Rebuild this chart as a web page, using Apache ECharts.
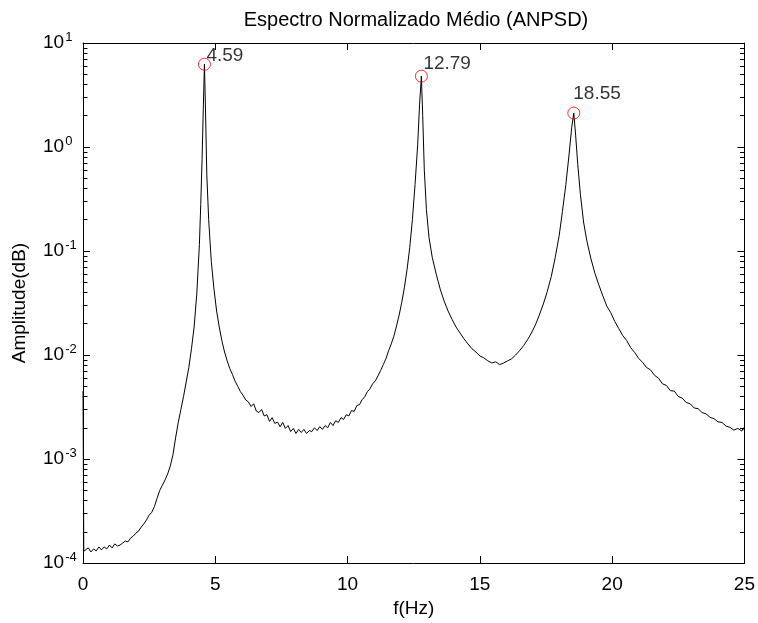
<!DOCTYPE html>
<html><head><meta charset="utf-8">
<script src="https://cdn.jsdelivr.net/npm/echarts@6/dist/echarts.min.js"></script>
<style>html,body{margin:0;padding:0;background:#fff}#c{width:758px;height:623px}</style>
</head><body><div id="c"></div>
<script>
const FONT = '"Liberation Sans",Arial,sans-serif';
const titleText = 'Espectro Normalizado Médio (ANPSD)';
const xName = 'f(Hz)';
const yName = 'Amplitude(dB)';

const freq = [0,0.03,0.1,0.2,0.3,0.4,0.5,0.6,0.7,0.8,0.9,1.0,1.1,1.2,1.3,1.4,1.5,1.6,1.7,1.8,1.9,2.0,2.1,2.2,2.3,2.4,2.5,2.6,2.7,2.8,2.9,3.0,3.1,3.2,3.3,3.4,3.5,3.6,3.7,3.8,3.9,4.0,4.1,4.2,4.3,4.4,4.45,4.5,4.55,4.59,4.63,4.68,4.75,4.85,4.95,5.05,5.15,5.25,5.35,5.45,5.55,5.65,5.75,5.85,5.95,6.05,6.15,6.25,6.35,6.45,6.55,6.65,6.75,6.85,6.95,7.05,7.15,7.25,7.35,7.45,7.55,7.65,7.75,7.85,7.95,8.05,8.15,8.25,8.35,8.45,8.55,8.65,8.75,8.85,8.95,9.05,9.15,9.25,9.35,9.45,9.55,9.65,9.75,9.85,9.95,10.05,10.15,10.25,10.35,10.45,10.55,10.65,10.75,10.85,10.95,11.05,11.15,11.25,11.35,11.45,11.55,11.65,11.75,11.85,11.95,12.05,12.15,12.25,12.35,12.45,12.55,12.65,12.72,12.79,12.84,12.9,12.98,13.08,13.2,13.35,13.5,13.65,13.8,13.95,14.1,14.25,14.4,14.55,14.7,14.85,15.0,15.15,15.3,15.45,15.6,15.75,15.9,16.05,16.2,16.35,16.5,16.65,16.8,16.95,17.1,17.25,17.4,17.55,17.7,17.85,18.0,18.12,18.25,18.37,18.47,18.55,18.62,18.7,18.8,18.92,19.05,19.2,19.35,19.5,19.65,19.8,19.95,20.1,20.25,20.4,20.55,20.7,20.85,21.0,21.15,21.3,21.45,21.6,21.75,21.9,22.05,22.2,22.35,22.5,22.65,22.8,22.95,23.1,23.25,23.4,23.55,23.7,23.85,24.0,24.15,24.3,24.45,24.6,24.75,24.9,24.96,25.0];

const amp = [4.5e-3,1.3e-4,1.31e-4,1.40e-4,1.28e-4,1.37e-4,1.31e-4,1.43e-4,1.34e-4,1.43e-4,1.37e-4,1.49e-4,1.40e-4,1.53e-4,1.46e-4,1.49e-4,1.56e-4,1.63e-4,1.60e-4,1.74e-4,1.82e-4,1.94e-4,2.03e-4,2.22e-4,2.38e-4,2.60e-4,2.89e-4,3.08e-4,3.50e-4,4.2e-4,5.0e-4,5.6e-4,6.3e-4,7.2e-4,8.6e-4,1.1e-3,1.6e-3,2.25e-3,3.0e-3,4.0e-3,5.5e-3,7.6e-3,1.15e-2,1.86e-2,3.85e-2,0.116,0.28,0.755,2.54,6.25,2.27,0.54,0.20,7.9e-2,4.31e-2,2.65e-2,1.86e-2,1.37e-2,1.07e-2,8.8e-3,7.4e-3,6.5e-3,5.6e-3,5.0e-3,4.45e-3,4.1e-3,3.7e-3,3.55e-3,3.2e-3,3.4e-3,2.9e-3,2.8e-3,3.0e-3,2.6e-3,2.67e-3,2.3e-3,2.5e-3,2.2e-3,2.27e-3,2.05e-3,2.25e-3,1.97e-3,2.1e-3,1.84e-3,1.97e-3,1.76e-3,1.93e-3,1.80e-3,1.93e-3,1.76e-3,1.88e-3,1.84e-3,2.0e-3,1.88e-3,2.05e-3,1.93e-3,2.1e-3,2.0e-3,2.25e-3,2.1e-3,2.34e-3,2.25e-3,2.5e-3,2.4e-3,2.67e-3,2.6e-3,2.93e-3,2.87e-3,3.27e-3,3.34e-3,3.72e-3,3.98e-3,4.45e-3,4.75e-3,5.3e-3,5.66e-3,6.3e-3,7.1e-3,8.1e-3,9.2e-3,1.1e-2,1.28e-2,1.52e-2,1.9e-2,2.43e-2,3.22e-2,4.5e-2,6.7e-2,0.108,0.20,0.435,1.05,2.54,4.80,2.0,0.60,0.25,0.134,8.7e-2,6.0e-2,4.31e-2,3.3e-2,2.65e-2,2.2e-2,1.86e-2,1.63e-2,1.43e-2,1.28e-2,1.15e-2,1.07e-2,9.8e-3,9.4e-3,8.8e-3,8.4e-3,8.6e-3,8.1e-3,8.4e-3,8.8e-3,9.2e-3,1.0e-2,1.1e-2,1.23e-2,1.4e-2,1.63e-2,1.95e-2,2.43e-2,3.1e-2,4.1e-2,5.7e-2,8.7e-2,0.142,0.24,0.435,0.84,1.53,2.12,1.3,0.68,0.35,0.19,0.123,8.4e-2,6.1e-2,4.7e-2,3.7e-2,2.95e-2,2.55e-2,2.1e-2,1.8e-2,1.54e-2,1.38e-2,1.18e-2,1.06e-2,9.3e-3,8.5e-3,7.6e-3,7.2e-3,6.4e-3,6.0e-3,5.3e-3,5.1e-3,4.55e-3,4.5e-3,4.0e-3,3.85e-3,3.5e-3,3.4e-3,3.1e-3,3.05e-3,2.8e-3,2.72e-3,2.52e-3,2.45e-3,2.28e-3,2.25e-3,2.08e-3,2.02e-3,1.9e-3,1.97e-3,1.86e-3,2.0e-3,1.88e-3,1.35e-3];

const peakFreq = [4.59, 12.79, 18.55];
const peakAmp = [6.25, 4.80, 2.12];
const peakLabels = ['4.59', '12.79', '18.55'];
const peakLabelPos = [[8.5, -2], [8.5, -6], [6, -12.5]];

const minorVals = [];
for (let d = -4; d < 1; d++) for (let k = 2; k <= 9; k++) minorVals.push(k * Math.pow(10, d));
const tickLenHz = 0.17;
const minorSegs = [];
minorVals.forEach(v => {
  minorSegs.push([{coord: [0, v]}, {coord: [tickLenHz, v]}]);
  minorSegs.push([{coord: [25 - tickLenHz, v]}, {coord: [25, v]}]);
});

const chart = echarts.init(document.getElementById('c'), null, {renderer: 'canvas'});
function axisCommon() {
  return {
    axisLine: {show: true, onZero: false, lineStyle: {color: '#000', width: 1}},
    axisTick: {show: true, inside: true, length: 7, lineStyle: {color: '#000'}},
    splitLine: {show: false}
  };
}
chart.setOption({
  animation: false,
  backgroundColor: '#fff',
  textStyle: {fontFamily: FONT, color: '#000'},
  title: {text: titleText, left: 411, textAlign: 'center', top: 5,
    textStyle: {fontFamily: FONT, fontSize: 20, fontWeight: 'normal', color: '#000'}},
  grid: {left: 83, right: 11, top: 43, bottom: 58, containLabel: false},
  xAxis: [
    Object.assign({type: 'value', min: 0, max: 25, interval: 5, position: 'bottom',
      name: xName, nameLocation: 'middle', nameGap: 34,
      nameTextStyle: {fontFamily: FONT, fontSize: 19, color: '#000'},
      axisLabel: {fontFamily: FONT, fontSize: 19, color: '#000', margin: 12}}, axisCommon()),
    Object.assign({type: 'value', min: 0, max: 25, interval: 5, position: 'top',
      axisLabel: {show: false}}, axisCommon())
  ],
  yAxis: [
    Object.assign({type: 'log', logBase: 10, min: 1e-4, max: 10, position: 'left',
      name: yName, nameLocation: 'middle', nameGap: 54, nameRotate: 90,
      nameTextStyle: {fontFamily: FONT, fontSize: 19, color: '#000'},
      axisLabel: {align: 'left', margin: 40, color: '#000',
        formatter: function (v) { const n = Math.round(Math.log10(v)); return '{b|10}{s|' + n + '}'; },
        rich: {b: {fontFamily: FONT, fontSize: 19, color: '#000'},
               s: {fontFamily: FONT, fontSize: 13, color: '#000', verticalAlign: 'top', padding: [0, 0, 12, 1]}}}
    }, axisCommon()),
    Object.assign({type: 'log', logBase: 10, min: 1e-4, max: 10, position: 'right',
      axisLabel: {show: false}}, axisCommon())
  ],
  series: [
    {type: 'line', data: freq.map((f, i) => [f, amp[i]]), showSymbol: false, symbol: 'none',
      lineStyle: {color: '#000', width: 1}, silent: true, z: 2,
      markLine: {silent: true, symbol: ['none', 'none'], animation: false,
        label: {show: false}, emphasis: {disabled: true},
        lineStyle: {color: '#000', width: 1, type: 'solid'},
        data: minorSegs}},
    {type: 'scatter', z: 4, silent: true,
      data: peakFreq.map((f, i) => ({value: [f, peakAmp[i]],
        label: {show: true, formatter: peakLabels[i], position: peakLabelPos[i],
          align: 'left', verticalAlign: 'middle', fontFamily: FONT, fontSize: 19, color: '#000'}})),
      symbol: 'circle', symbolSize: 12,
      itemStyle: {color: 'rgba(0,0,0,0)', borderColor: '#ff0000', borderWidth: 1}}
  ]
});
</script></body></html>
